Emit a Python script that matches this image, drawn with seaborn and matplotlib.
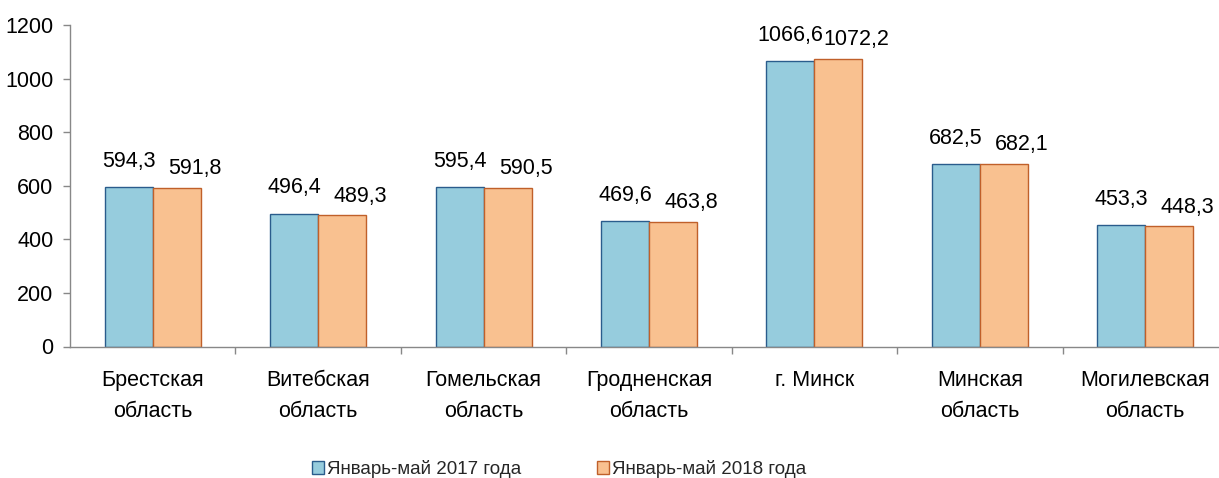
import matplotlib
matplotlib.use("Agg")
import matplotlib.pyplot as plt
import seaborn as sns
import pandas as pd
import numpy as np

regions = ["Брестская\nобласть", "Витебская\nобласть", "Гомельская\nобласть",
           "Гродненская\nобласть", "г. Минск", "Минская\nобласть", "Могилевская\nобласть"]
series_names = ["Январь-май 2017 года", "Январь-май 2018 года"]
values_2017 = [594.3, 496.4, 595.4, 469.6, 1066.6, 682.5, 453.3]
values_2018 = [591.8, 489.3, 590.5, 463.8, 1072.2, 682.1, 448.3]

df = pd.DataFrame({
    "region": regions * 2,
    "period": [series_names[0]] * len(regions) + [series_names[1]] * len(regions),
    "value": values_2017 + values_2018,
})

sns.set_theme(style="white")
plt.rcParams["font.family"] = ["Liberation Sans", "DejaVu Sans"]

fills = ["#96CCDD", "#F9C190"]
edges = ["#2A5C8C", "#C0602A"]

W, H = 1219, 478
fig = plt.figure(figsize=(W / 100, H / 100), dpi=100)
# plot area runs a little past the right edge of the canvas
ax = fig.add_axes([70 / W, 1 - 346.5 / H, 1158 / W, (346.5 - 25) / H])

sns.barplot(data=df, x="region", y="value", hue="period", order=regions,
            hue_order=series_names, palette=fills, width=0.58, gap=0,
            saturation=1, ax=ax, legend=True)

for container, ec, dx, dy in zip(ax.containers, edges, [0, 13], [14.5, 10]):
    for bar in container:
        bar.set_edgecolor(ec)
        bar.set_linewidth(1.0)
        h = bar.get_height()
        ax.annotate(f"{h:.1f}".replace(".", ","),
                    (bar.get_x() + bar.get_width() / 2, h),
                    xytext=(dx, dy), textcoords="offset points",
                    ha="center", va="baseline", fontsize=15.5, color="black")

ax.set_ylim(0, 1200)
ax.set_xlim(-0.5, len(regions) - 0.5)
ax.set_yticks(np.arange(0, 1201, 200))
ax.set_xlabel("")
ax.set_ylabel("")

ax.tick_params(axis="y", labelsize=15.5, length=5, width=1, color="#888888",
               direction="out", left=True, pad=7, labelcolor="black")
ax.tick_params(axis="x", which="major", labelsize=15.5, length=0, pad=17,
               labelcolor="black")
ax.set_xticks(np.arange(0.5, len(regions), 1.0), minor=True)
ax.tick_params(axis="x", which="minor", length=5, width=1, color="#888888",
               direction="out", bottom=True)
for lbl in ax.get_xticklabels():
    lbl.set_linespacing(1.6)

for side in ["top", "right"]:
    ax.spines[side].set_visible(False)
for side in ["left", "bottom"]:
    ax.spines[side].set_color("#888888")
    ax.spines[side].set_linewidth(1)

handles, labels = ax.get_legend_handles_labels()
for h, ec in zip(handles, edges):
    h.set_edgecolor(ec)
ax.legend(handles, labels, loc="center", bbox_to_anchor=(559 / W, 1 - 469 / H),
          bbox_transform=fig.transFigure, ncol=2, frameon=False, fontsize=13.5,
          handlelength=0.65, handleheight=0.65, handletextpad=0.16,
          columnspacing=4.0)

fig.savefig("out.png", dpi=100)
